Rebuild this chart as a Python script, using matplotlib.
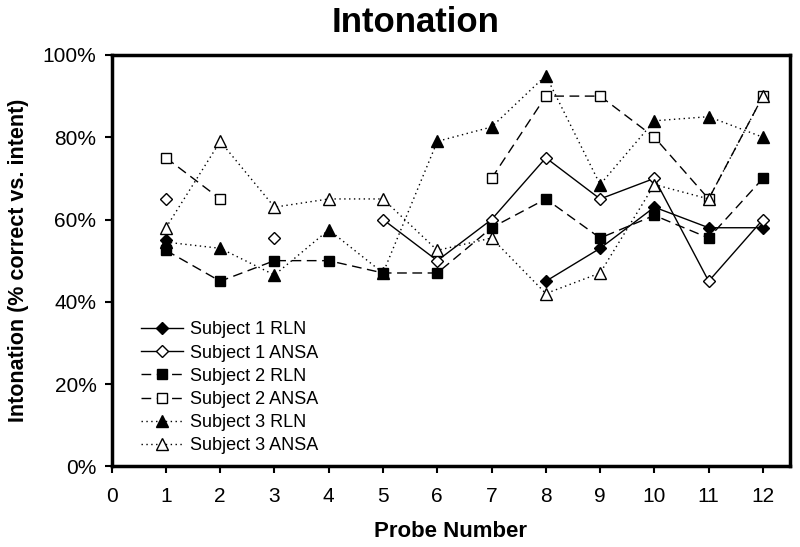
import numpy as np
import matplotlib
matplotlib.use("Agg")
import matplotlib.pyplot as plt
from matplotlib.ticker import PercentFormatter

plt.rcParams['font.family'] = ['Liberation Sans', 'DejaVu Sans']

nan = np.nan
probes = [1, 2, 3, 4, 5, 6, 7, 8, 9, 10, 11, 12]

# percent correct per probe (nan = no measurement)
s1_rln = [55, nan, nan, nan, nan, nan, nan, 45, 53, 63, 58, 58]
s1_ansa = [65, nan, 55.5, nan, 60, 50, 60, 75, 65, 70, 45, 60]
s2_rln = [52.5, 45, 50, 50, 47, 47, 58, 65, 55.5, 61, 55.5, 70]
s2_ansa = [75, 65, nan, nan, nan, nan, 70, 90, 90, 80, 65, 90]
s3_rln = [54.5, 53, 46.5, 57.5, 47, 79, 82.5, 95, 68.5, 84, 85, 80]
s3_ansa = [58, 79, 63, 65, 65, 52.5, 55.5, 42, 47, 68.5, 65, 90]

labels = ["Subject 1 RLN", "Subject 1 ANSA", "Subject 2 RLN",
          "Subject 2 ANSA", "Subject 3 RLN", "Subject 3 ANSA"]

series = [
    (s1_rln, "-", "D", "black", 6),
    (s1_ansa, "-", "D", "white", 6),
    (s2_rln, (0, (7, 4)), "s", "black", 7),
    (s2_ansa, (0, (7, 4)), "s", "white", 7),
    (s3_rln, (0, (1, 2.5)), "^", "black", 8),
    (s3_ansa, (0, (1, 2.5)), "^", "white", 8),
]

fig = plt.figure(figsize=(8, 5.47), dpi=100)
ax = fig.add_axes([0.1396, 0.1475, 0.848, 0.752])

for (vals, ls, mk, fc, ms), lab in zip(series, labels):
    ax.plot(probes, vals, linestyle=ls, color="black", linewidth=1,
            marker=mk, markerfacecolor=fc, markeredgecolor="black",
            markeredgewidth=1, markersize=ms, label=lab)

ax.set_xlim(0, 12.5)
ax.set_ylim(0, 100)
ax.set_xticks(range(0, 13))
ax.set_yticks(range(0, 101, 20))
ax.yaxis.set_major_formatter(PercentFormatter(decimals=0))
for s in ax.spines.values():
    s.set_linewidth(2.5)
ax.tick_params(direction="out", length=5, width=1.5, labelsize=15)
ax.tick_params(axis="x", pad=10)
ax.tick_params(axis="y", pad=6)

ax.set_xlabel("Probe Number", fontsize=16, fontweight="bold")
ax.xaxis.set_label_coords(0.5, -0.132)
ax.set_ylabel("Intonation (% correct vs. intent)", fontsize=15.5,
              fontweight="bold")
ax.yaxis.set_label_coords(-0.122, 0.5)
fig.text(0.519, 0.958, "Intonation", ha="center", va="center",
         fontsize=25, fontweight="bold")

ax.legend(loc="lower left", bbox_to_anchor=(0.033, 0.012), frameon=False,
          fontsize=13, numpoints=1, handlelength=2.3, handletextpad=0.4,
          labelspacing=0.34, borderaxespad=0)

fig.savefig("out.png", dpi=100)
